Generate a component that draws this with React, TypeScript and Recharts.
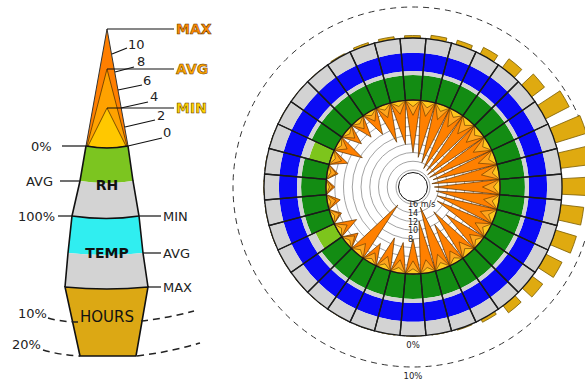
import React from "react";
import {
  RadialBarChart,
  RadialBar,
  RadarChart,
  Radar,
  PolarAngleAxis,
  PolarRadiusAxis,
  PolarGrid,
  Cell,
  Legend,
} from "recharts";

const W = 585;
const H = 380;
const CX = 413;
const CY = 187;

// 36 direction sectors, 10 degrees each, clockwise from north
const bearings = [
  0, 10, 20, 30, 40, 50, 60, 70, 80, 90, 100, 110, 120, 130, 140, 150, 160, 170,
  180, 190, 200, 210, 220, 230, 240, 250, 260, 270, 280, 290, 300, 310, 320, 330, 340, 350,
];

// wind speed, m/s
const windMax = [
  12, 13, 14, 15, 15, 15.5, 15.5, 15, 15.5, 15, 14.5, 14, 13.5, 10, 12.5, 10, 15, 12,
  8, 7, 7.5, 5, 14.5, 3.5, 5, 2.5, 3, 2, 2.5, 4, 6.5, 4.5, 5, 6, 9, 10,
];
const windAvg = [
  3.5, 3.5, 3.5, 4, 4, 4, 4, 4, 4, 4, 3.5, 3.5, 3.5, 3, 3.5, 3, 3.5, 3,
  3, 3, 3, 2.5, 3, 2.5, 2.5, 2, 2, 1.5, 2, 2.5, 2.5, 2.5, 2.5, 2.5, 3, 3,
];
const windMin = [
  1.5, 1.5, 1.5, 1.5, 1.5, 1.5, 1.5, 1.5, 1.5, 1.5, 1.5, 1.5, 1.5, 1.2, 1.5, 1.2, 1.5, 1.2,
  1.2, 1.2, 1.2, 1, 1.2, 1, 1, 0.8, 0.8, 0.8, 0.8, 1, 1, 1, 1, 1, 1.2, 1.2,
];

// relative humidity, %
const humidity = [
  86, 86, 87, 86, 86, 86, 87, 86, 86, 86, 86, 87, 86, 86, 86, 86, 86, 86,
  86, 86, 86, 86, 86, 86, 86, 72, 86, 86, 86, 86, 72, 86, 86, 86, 86, 86,
];

// mean temperature, position inside the min..max band (%)
const tempAvg = [
  55, 55, 55, 55, 55, 56, 55, 55, 55, 55, 55, 55, 56, 56, 56, 57, 57, 57,
  57, 57, 56, 56, 56, 56, 56, 55, 55, 55, 55, 55, 55, 55, 55, 55, 55, 55,
];

// share of sunshine hours, %
const sunHours = [
  0.8, 0.8, 1.2, 1.4, 2.4, 3.6, 5.2, 8.6, 10.5, 11, 10, 7.4, 7, 5.8, 4.2, 2.9, 1, 0.3,
  0, 0, 0, 0, 0, 0, 0, 0, 0, 0, 0, 0, 0, 0, 0, 0, 0.3, 0.7,
];

const windTicks = [0, 2, 4, 6, 8, 10, 12, 14, 16];
const sunTicks = [0, 10];

const sectorRows = bearings.map((b, i) => ({
  bearing: b,
  rh: humidity[i],
  rhRest: 100 - humidity[i],
  temp: tempAvg[i],
  tempRest: 100 - tempAvg[i],
  sun: sunHours[i],
}));

// star band: calm point on each sector edge, reading on the sector centre;
// each value is a [calm, speed] range so only the spikes get filled
const spikeRows = bearings.flatMap((b, i) => [
  { edge: `e${b}`, max: [0, 0], avg: [0, 0], min: [0, 0] },
  { edge: `c${b}`, max: [0, windMax[i]], avg: [0, windAvg[i]], min: [0, windMin[i]] },
]);

const noMargin = { top: 0, right: 0, bottom: 0, left: 0 };
const layer: React.CSSProperties = { position: "absolute", left: 0, top: 0 };
const fullCell = () => 1;

const GREY = "#d3d3d3";

function SpeedTick(props: any) {
  const { x, y, payload } = props;
  if (payload.value < 8) return <g />;
  return (
    <text x={x - 5} y={y + 3} fontSize={8} fill="#222">
      {payload.value === 16 ? "16 m/s" : payload.value}
    </text>
  );
}

function PctTick(props: any) {
  const { x, y, payload } = props;
  return (
    <text x={x} y={y + 12} textAnchor="middle" fontSize={8.5} fill="#222">
      {`${payload.value}%`}
    </text>
  );
}

function WindKey() {
  const txt = { fontFamily: "DejaVu Sans", fontSize: 13, fill: "#222" };
  const bold = { ...txt, fontSize: 14, fontWeight: 700 };
  const scaleMarks = [
    { t: "10", x: 128, y: 49, a: [112, 54], b: [127, 48] },
    { t: "8", x: 137, y: 66, a: [115, 72], b: [134, 67] },
    { t: "6", x: 143, y: 85, a: [118, 90], b: [142, 85] },
    { t: "4", x: 150, y: 101, a: [121, 108], b: [148, 102] },
    { t: "2", x: 157, y: 120, a: [125, 127], b: [155, 120] },
    { t: "0", x: 163, y: 137, a: [128, 146], b: [162, 138] },
  ];
  return (
    <svg width={230} height={380}>
      {/* wind cone */}
      <path d="M107 29 L128 146 Q107 150 86 146 Z" fill="#ff7f00" stroke="#333" strokeWidth={1} />
      <path d="M107 69 L127 146 Q107 150 87 146 Z" fill="#ffa200" stroke="#5a3600" strokeWidth={0.8} />
      <path d="M107 108 L126 146 Q107 150 88 146 Z" fill="#ffc800" stroke="#5a3600" strokeWidth={0.8} />
      {/* humidity band */}
      <path d="M86 146 Q107 150 128 146 L133 181 Q107 185 80 181 Z" fill="#7cc520" />
      <path d="M80 181 Q107 185 133 181 L139 216 Q107 221 72 216 Z" fill={GREY} />
      {/* temperature band */}
      <path d="M72 216 Q107 221 139 216 L143 253 Q107 257 68 253 Z" fill="#30eef0" />
      <path d="M68 253 Q107 257 143 253 L148 287 Q107 291 65 287 Z" fill={GREY} />
      <path d="M86 146 L80 181 L72 216 L68 253 L65 287" fill="none" stroke="#111" strokeWidth={1.6} />
      <path d="M128 146 L133 181 L139 216 L143 253 L148 287" fill="none" stroke="#111" strokeWidth={1.6} />
      <path d="M86 146 Q107 150 128 146" fill="none" stroke="#111" strokeWidth={1.4} />
      <path d="M72 216 Q107 221 139 216" fill="none" stroke="#111" strokeWidth={1.6} />
      {/* sunshine block */}
      <path d="M65 287 Q107 291 148 287 L136 356 L80 356 Z" fill="#dca814" stroke="#111" strokeWidth={1.6} />

      <line x1={107} y1={29} x2={174} y2={29} stroke="#111" strokeWidth={1.2} />
      <line x1={107} y1={69} x2={174} y2={69} stroke="#111" strokeWidth={1.2} />
      <line x1={107} y1={108} x2={174} y2={108} stroke="#111" strokeWidth={1.2} />
      <text x={176} y={34} {...bold} fill="#ff8a00" stroke="#5a3200" strokeWidth={0.5}>MAX</text>
      <text x={176} y={74} {...bold} fill="#ffa600" stroke="#5a3200" strokeWidth={0.5}>AVG</text>
      <text x={176} y={113} {...bold} fill="#ffd400" stroke="#5a3200" strokeWidth={0.5}>MIN</text>

      {scaleMarks.map((m) => (
        <g key={m.t}>
          <line x1={m.a[0]} y1={m.a[1]} x2={m.b[0]} y2={m.b[1]} stroke="#111" strokeWidth={1.2} />
          <text x={m.x} y={m.y} {...txt}>{m.t}</text>
        </g>
      ))}

      <line x1={62} y1={146} x2={86} y2={146} stroke="#111" strokeWidth={1.2} />
      <text x={31} y={151} {...txt}>0%</text>
      <line x1={60} y1={181} x2={80} y2={181} stroke="#111" strokeWidth={1.2} />
      <text x={26} y={186} {...txt}>AVG</text>
      <line x1={58} y1={216} x2={72} y2={216} stroke="#111" strokeWidth={1.2} />
      <text x={18} y={221} {...txt}>100%</text>

      <line x1={139} y1={216} x2={161} y2={216} stroke="#111" strokeWidth={1.2} />
      <text x={163} y={221} {...txt}>MIN</text>
      <line x1={143} y1={253} x2={161} y2={253} stroke="#111" strokeWidth={1.2} />
      <text x={163} y={258} {...txt}>AVG</text>
      <line x1={148} y1={287} x2={161} y2={287} stroke="#111" strokeWidth={1.2} />
      <text x={163} y={292} {...txt}>MAX</text>

      <text x={107} y={190} textAnchor="middle" {...bold} fill="#111">RH</text>
      <text x={107} y={258} textAnchor="middle" {...bold} fill="#111">TEMP</text>
      <text x={107} y={322} textAnchor="middle" {...txt} fontSize={15} fill="#111">HOURS</text>

      <text x={18} y={318} {...txt}>10%</text>
      <path d="M48 318 Q62 322 78 322" fill="none" stroke="#222" strokeWidth={1.5} strokeDasharray="7 5" />
      <path d="M141 321 Q168 318 194 311" fill="none" stroke="#222" strokeWidth={1.5} strokeDasharray="7 5" />
      <text x={12} y={349} {...txt}>20%</text>
      <path d="M43 350 Q60 355 80 356" fill="none" stroke="#222" strokeWidth={1.5} strokeDasharray="7 5" />
      <path d="M137 356 Q170 352 200 343" fill="none" stroke="#222" strokeWidth={1.5} strokeDasharray="7 5" />
    </svg>
  );
}

export default function App() {
  return (
    <div
      style={{
        position: "absolute",
        left: 0,
        top: 0,
        width: W,
        height: H,
        background: "#fff",
        fontFamily: "DejaVu Sans",
        overflow: "hidden",
      }}
    >
      {/* sunshine bars + key */}
      <div style={layer}>
        <RadialBarChart
          width={W}
          height={H}
          cx={CX}
          cy={CY}
          innerRadius={149}
          outerRadius={211}
          startAngle={95}
          endAngle={-265}
          layout="centric"
          data={sectorRows}
          barCategoryGap="22%"
          margin={noMargin}
        >
          <PolarGrid gridType="circle" radialLines={false} stroke="#333" strokeDasharray="6 5" />
          <PolarAngleAxis type="category" dataKey="bearing" tick={false} tickLine={false} axisLine={false} />
          <PolarRadiusAxis
            type="number"
            domain={[0, 20]}
            ticks={sunTicks}
            angle={-90}
            axisLine={false}
            tickLine={false}
            tick={PctTick}
          />
          <RadialBar dataKey="sun" fill="#dfaa10" stroke="#7a5c00" strokeWidth={0.8} isAnimationActive={false} />
          <Legend
            layout="vertical"
            align="center"
            verticalAlign="middle"
            wrapperStyle={{ left: 0, top: 0, width: 230, height: 380 }}
            content={() => <WindKey />}
          />
        </RadialBarChart>
      </div>

      {/* temperature ring */}
      <div style={layer}>
        <RadialBarChart
          width={W}
          height={H}
          cx={CX}
          cy={CY}
          innerRadius={116}
          outerRadius={149}
          startAngle={95}
          endAngle={-265}
          layout="centric"
          data={sectorRows}
          barCategoryGap={0}
          margin={noMargin}
        >
          <PolarAngleAxis type="category" dataKey="bearing" tick={false} tickLine={false} axisLine={false} />
          <PolarRadiusAxis type="number" domain={[0, 100]} tick={false} tickLine={false} axisLine={false} />
          <RadialBar dataKey="temp" stackId="t" fill="#0a0af5" isAnimationActive={false} />
          <RadialBar dataKey="tempRest" stackId="t" fill={GREY} isAnimationActive={false} />
        </RadialBarChart>
      </div>

      {/* humidity ring */}
      <div style={layer}>
        <RadialBarChart
          width={W}
          height={H}
          cx={CX}
          cy={CY}
          innerRadius={87}
          outerRadius={116}
          startAngle={95}
          endAngle={-265}
          layout="centric"
          data={sectorRows}
          barCategoryGap={0}
          margin={noMargin}
        >
          <PolarAngleAxis type="category" dataKey="bearing" tick={false} tickLine={false} axisLine={false} />
          <PolarRadiusAxis type="number" domain={[0, 100]} tick={false} tickLine={false} axisLine={false} />
          <RadialBar dataKey="rh" stackId="h" isAnimationActive={false}>
            {sectorRows.map((r) => (
              <Cell key={r.bearing} fill={r.rh < 80 ? "#7dc51c" : "#138c13"} />
            ))}
          </RadialBar>
          <RadialBar dataKey="rhRest" stackId="h" fill={GREY} isAnimationActive={false} />
        </RadialBarChart>
      </div>

      {/* wind spikes, scale runs inward: calm at the ring, 16 m/s at the hub */}
      <div style={layer}>
        <RadarChart
          width={W}
          height={H}
          cx={CX}
          cy={CY}
          innerRadius={17}
          outerRadius={87}
          startAngle={95}
          endAngle={-265}
          data={spikeRows}
          margin={noMargin}
        >
          <PolarGrid gridType="circle" radialLines={false} stroke="#8c8c8c" strokeWidth={0.8} />
          <PolarAngleAxis dataKey="edge" tick={false} tickLine={false} axisLine={false} />
          <PolarRadiusAxis
            type="number"
            domain={[0, 16]}
            ticks={windTicks}
            reversed
            angle={-90}
            axisLine={false}
            tickLine={false}
            tick={SpeedTick}
          />
          <Radar dataKey="max" fill="#ff8000" fillOpacity={1} stroke="#5a3000" strokeWidth={0.7} isAnimationActive={false} />
          <Radar dataKey="avg" fill="#ffa41c" fillOpacity={1} stroke="#5a3000" strokeWidth={0.6} isAnimationActive={false} />
          <Radar dataKey="min" fill="#ffc81e" fillOpacity={1} stroke="#5a3000" strokeWidth={0.6} isAnimationActive={false} />
        </RadarChart>
      </div>

      {/* cell frames over both rings */}
      <div style={layer}>
        <RadialBarChart
          width={W}
          height={H}
          cx={CX}
          cy={CY}
          innerRadius={87}
          outerRadius={149}
          startAngle={95}
          endAngle={-265}
          layout="centric"
          data={sectorRows}
          barCategoryGap={0}
          margin={noMargin}
        >
          <PolarAngleAxis type="category" dataKey="bearing" tick={false} tickLine={false} axisLine={false} />
          <PolarRadiusAxis type="number" domain={[0, 1]} tick={false} tickLine={false} axisLine={false} />
          <RadialBar dataKey={fullCell} fill="none" stroke="#1b1b1b" strokeWidth={1.3} isAnimationActive={false} />
        </RadialBarChart>
      </div>

      {/* hub */}
      <div
        style={{
          position: "absolute",
          left: CX - 15,
          top: CY - 15,
          width: 30,
          height: 30,
          boxSizing: "border-box",
          border: "1.6px solid #111",
          borderRadius: "50%",
          background: "#fff",
        }}
      />
    </div>
  );
}
